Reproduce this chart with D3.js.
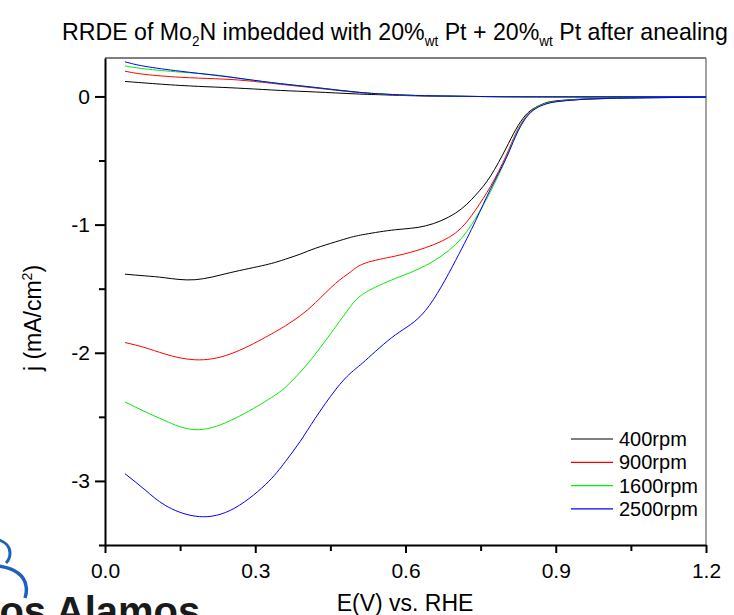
<!DOCTYPE html>
<html lang="en">
<head>
<meta charset="UTF-8">
<title>RRDE of Mo2N</title>
<script src="https://cdn.jsdelivr.net/npm/d3@7"></script>
<style>
  body { margin: 0; background: #fff; }
  text { font-family: "Liberation Sans", Arial, sans-serif; fill: #000; }
</style>
</head>
<body>
<div id="chart"></div>
<script>
// potential grid (V vs RHE) for the cathodic sweep
const potLower = [0.04, 0.08, 0.12, 0.18, 0.25, 0.32, 0.36, 0.39, 0.42, 0.46, 0.49, 0.52, 0.58, 0.64, 0.70,
                  0.74, 0.77, 0.80, 0.82, 0.84, 0.86, 0.88, 0.90, 0.93, 0.97, 1.05, 1.2];
// potential grid for the small positive branch near 0
const potUpper = [0.04, 0.08, 0.15, 0.22, 0.28, 0.35, 0.42, 0.50, 0.56, 0.62, 0.70, 0.80, 0.95, 1.2];

const rpm = ["400rpm", "900rpm", "1600rpm", "2500rpm"];
const colors = ["#000000", "#ff0000", "#00ee00", "#0000ff"];

const j400 = [-1.387, -1.40, -1.415, -1.43, -1.375, -1.315, -1.27, -1.23, -1.185, -1.135, -1.10, -1.075, -1.04, -1.01, -0.91,
              -0.77, -0.62, -0.41, -0.26, -0.145, -0.085, -0.05, -0.035, -0.025, -0.018, -0.01, -0.005];
const j900 = [-1.92, -1.96, -2.01, -2.055, -2.01, -1.88, -1.79, -1.71, -1.61, -1.46, -1.37, -1.30, -1.245, -1.18, -1.065,
              -0.885, -0.70, -0.47, -0.29, -0.16, -0.09, -0.055, -0.04, -0.028, -0.02, -0.012, -0.006];
const j1600 = [-2.384, -2.46, -2.53, -2.60, -2.53, -2.38, -2.27, -2.15, -2.01, -1.80, -1.64, -1.53, -1.42, -1.32, -1.155,
               -0.95, -0.74, -0.49, -0.30, -0.165, -0.09, -0.055, -0.04, -0.028, -0.02, -0.012, -0.006];
const j2500 = [-2.944, -3.07, -3.19, -3.275, -3.23, -3.03, -2.85, -2.69, -2.51, -2.29, -2.16, -2.06, -1.86, -1.67, -1.28,
               -0.97, -0.72, -0.49, -0.31, -0.17, -0.095, -0.06, -0.042, -0.03, -0.02, -0.012, -0.006];

const up400 = [0.117, 0.105, 0.086, 0.073, 0.062, 0.047, 0.035, 0.020, 0.012, 0.005, 0.001, -0.002, -0.003, -0.003];
const up900 = [0.197, 0.172, 0.150, 0.138, 0.124, 0.095, 0.066, 0.033, 0.016, 0.007, 0.002, -0.002, -0.003, -0.003];
const up1600 = [0.238, 0.215, 0.190, 0.168, 0.135, 0.100, 0.070, 0.035, 0.018, 0.008, 0.002, -0.002, -0.003, -0.003];
const up2500 = [0.270, 0.235, 0.197, 0.165, 0.135, 0.100, 0.070, 0.035, 0.018, 0.008, 0.002, -0.002, -0.003, -0.003];

const lowerSeries = [j400, j900, j1600, j2500];
const upperSeries = [up400, up900, up1600, up2500];

const xMajor = [0, 0.3, 0.6, 0.9, 1.2];
const xMinor = [0.15, 0.45, 0.75, 1.05];
const yMajor = [0, -1, -2, -3];
const yMinor = [-0.5, -1.5, -2.5, -3.5];

const width = 734, height = 615;
const plotL = 105, plotR = 706, plotT = 58, plotB = 545;

const svg = d3.select("#chart").append("svg")
    .attr("width", width)
    .attr("height", height);

const x = d3.scaleLinear().domain([0, 1.2]).range([plotL, plotR]);
const y = d3.scaleLinear().domain([-3.5, 0.3]).range([plotB, plotT]);

// frame (top + right thin)
svg.append("line").attr("x1", plotL).attr("x2", plotR).attr("y1", plotT).attr("y2", plotT)
    .attr("stroke", "#000").attr("stroke-width", 1.2);
svg.append("line").attr("x1", plotR).attr("x2", plotR).attr("y1", plotT).attr("y2", plotB)
    .attr("stroke", "#666").attr("stroke-width", 1.2);

// curves
const line = d3.line()
    .x(d => x(d[0]))
    .y(d => y(d[1]))
    .curve(d3.curveNatural);

lowerSeries.forEach((vals, i) => {
    const up = upperSeries[i];
    svg.append("path")
        .datum(potUpper.map((p, k) => [p, up[k]]))
        .attr("fill", "none").attr("stroke", colors[i]).attr("stroke-width", 1)
        .attr("d", line);
    svg.append("path")
        .datum(potLower.map((p, k) => [p, vals[k]]))
        .attr("fill", "none").attr("stroke", colors[i]).attr("stroke-width", 1)
        .attr("d", line);
});

// axes
const xAxis = svg.append("g").attr("transform", `translate(0,${plotB})`)
    .call(d3.axisBottom(x).tickValues(xMajor).tickSize(8).tickSizeOuter(0).tickFormat(d3.format(".1f")));
svg.append("g").attr("transform", `translate(0,${plotB})`)
    .call(d3.axisBottom(x).tickValues(xMinor).tickSize(6).tickSizeOuter(0).tickFormat(""))
    .select(".domain").remove();
const yAxis = svg.append("g").attr("transform", `translate(${plotL},0)`)
    .call(d3.axisLeft(y).tickValues(yMajor).tickSize(10).tickSizeOuter(0).tickFormat(d3.format("d")));
svg.append("g").attr("transform", `translate(${plotL},0)`)
    .call(d3.axisLeft(y).tickValues(yMinor).tickSize(6).tickSizeOuter(0).tickFormat(""))
    .select(".domain").remove();

svg.selectAll(".domain").attr("stroke", "#000").attr("stroke-width", 2);
svg.selectAll(".tick line").attr("stroke", "#000").attr("stroke-width", 2);
svg.selectAll(".tick text").attr("font-family", "Liberation Sans, Arial, sans-serif").attr("font-size", 21);
xAxis.selectAll(".tick text").attr("dy", "1.05em");
yAxis.selectAll(".tick text").attr("x", -15).text(d => d === 0 ? "0" : "-" + Math.abs(d));

// axis titles
svg.append("text").attr("x", 405).attr("y", 611).attr("text-anchor", "middle")
    .attr("font-size", 23).text("E(V) vs. RHE");

const yl = svg.append("text").attr("transform", "translate(41,318) rotate(-90)")
    .attr("text-anchor", "middle").attr("font-size", 23);
yl.append("tspan").text("j (mA/cm");
yl.append("tspan").attr("font-size", 14).attr("dy", -9).text("2");
yl.append("tspan").attr("dy", 9).text(")");

// title with subscripts
const titleParts = [
    ["RRDE of Mo", false], ["2", true], ["N imbedded with 20%", false], ["wt", true],
    [" Pt + 20%", false], ["wt", true], [" Pt after anealing", false]
];
const title = svg.append("text").attr("x", 0).attr("y", 0).attr("font-size", 24);
let shifted = false;
titleParts.forEach(([t, sub]) => {
    const dy = sub ? 6 : (shifted ? -6 : 0);
    shifted = sub;
    title.append("tspan")
        .attr("font-size", sub ? 14 : 24)
        .attr("dy", dy)
        .text(t);
});
// fit title to its span in the figure
const tw = title.node().getComputedTextLength();
title.attr("transform", `translate(62,40) scale(${666 / tw},1)`);

// legend
const legend = svg.append("g");
rpm.forEach((name, i) => {
    const ly = 439 + i * 23.3;
    legend.append("line").attr("x1", 571).attr("x2", 613).attr("y1", ly).attr("y2", ly)
        .attr("stroke", colors[i]).attr("stroke-width", i === 0 ? 1 : 1.3);
    legend.append("text").attr("x", 619).attr("y", ly + 7).attr("font-size", 20).text(name);
});

// logo fragment in the corner
const logo = svg.append("g");
logo.append("path")
    .attr("d", "M-4,539 C4,541 10,546 10,553 C10,558 8,561 6,563")
    .attr("fill", "none").attr("stroke", "#1f5fbf").attr("stroke-width", 3);
logo.append("path")
    .attr("d", "M-2,566 C12,568 24,574 26,586 C27,591 26,595 25,598")
    .attr("fill", "none").attr("stroke", "#1f5fbf").attr("stroke-width", 3.5);
logo.append("text").attr("x", -25).attr("y", 625).attr("font-size", 40)
    .attr("font-weight", "bold").style("fill", "#1a1a1a").text("Los Alamos");
</script>
</body>
</html>
